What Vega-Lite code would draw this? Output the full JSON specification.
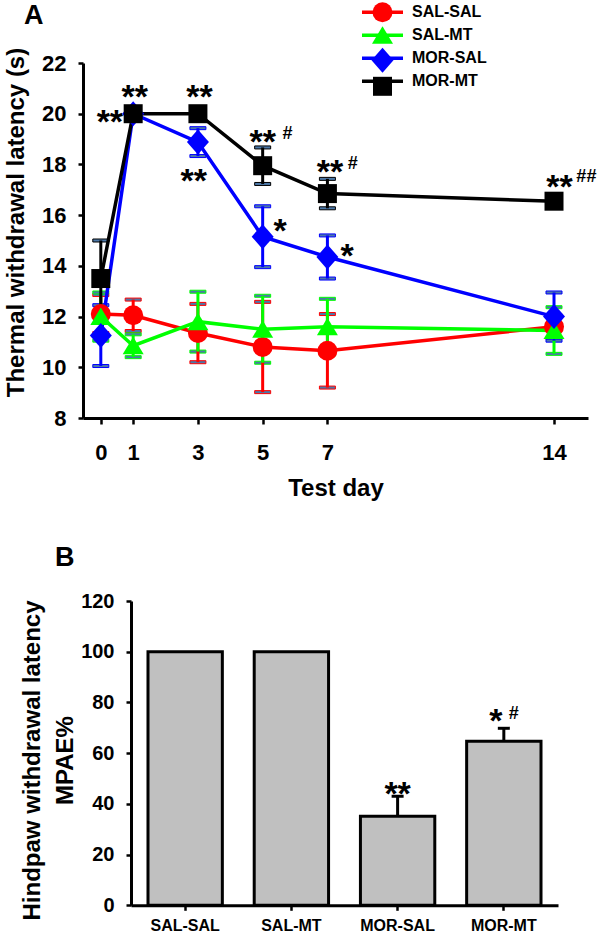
{
  "$schema": "https://vega.github.io/schema/vega-lite/v6.json",
  "padding": {"left": 3, "top": 2, "right": 0, "bottom": 0},
  "background": "white",
  "bounds": "flush",
  "spacing": 183,
  "config": {
    "font": "Liberation Sans",
    "view": {"stroke": null},
    "axis": {"domainColor": "#000", "domainWidth": 3, "tickColor": "#000", "tickWidth": 2.5, "labelColor": "#000", "labelFont": "Liberation Sans", "labelFontWeight": "bold", "titleFont": "Liberation Sans", "titleFontWeight": "bold", "titleColor": "#000", "grid": false}
  },
  "datasets": {
    "latency": [
      {"group": "SAL-SAL", "day": 0, "mean": 12.1, "sem": 0.75},
      {"group": "SAL-SAL", "day": 1, "mean": 12.05, "sem": 0.62},
      {"group": "SAL-SAL", "day": 3, "mean": 11.35, "sem": 1.15},
      {"group": "SAL-SAL", "day": 5, "mean": 10.8, "sem": 1.78},
      {"group": "SAL-SAL", "day": 7, "mean": 10.65, "sem": 1.45},
      {"group": "SAL-SAL", "day": 14, "mean": 11.6, "sem": 0.45},
      {"group": "SAL-MT", "day": 0, "mean": 12.0, "sem": 0.95},
      {"group": "SAL-MT", "day": 1, "mean": 10.85, "sem": 0.45},
      {"group": "SAL-MT", "day": 3, "mean": 11.8, "sem": 1.18},
      {"group": "SAL-MT", "day": 5, "mean": 11.5, "sem": 1.32},
      {"group": "SAL-MT", "day": 7, "mean": 11.6, "sem": 1.1},
      {"group": "SAL-MT", "day": 14, "mean": 11.45, "sem": 0.92},
      {"group": "MOR-SAL", "day": 0, "mean": 11.25, "sem": 1.2},
      {"group": "MOR-SAL", "day": 1, "mean": 20.0, "sem": 0.1},
      {"group": "MOR-SAL", "day": 3, "mean": 18.88, "sem": 0.55},
      {"group": "MOR-SAL", "day": 5, "mean": 15.15, "sem": 1.2},
      {"group": "MOR-SAL", "day": 7, "mean": 14.35, "sem": 0.85},
      {"group": "MOR-SAL", "day": 14, "mean": 12.0, "sem": 0.95},
      {"group": "MOR-MT", "day": 0, "mean": 13.5, "sem": 1.5},
      {"group": "MOR-MT", "day": 1, "mean": 20.0, "sem": 0.05},
      {"group": "MOR-MT", "day": 3, "mean": 20.0, "sem": 0.05},
      {"group": "MOR-MT", "day": 5, "mean": 17.95, "sem": 0.72},
      {"group": "MOR-MT", "day": 7, "mean": 16.85, "sem": 0.58},
      {"group": "MOR-MT", "day": 14, "mean": 16.55, "sem": 0.25}
    ],
    "starsA": [
      {"day": 0.28, "level": 20.0, "label": "**"},
      {"day": 1.05, "level": 21.0, "label": "**"},
      {"day": 3.05, "level": 21.0, "label": "**"},
      {"day": 2.87, "level": 17.7, "label": "**"},
      {"day": 5.0, "level": 19.23, "label": "**"},
      {"day": 7.08, "level": 18.05, "label": "**"},
      {"day": 14.17, "level": 17.45, "label": "**"},
      {"day": 5.54, "level": 15.72, "label": "*"},
      {"day": 7.61, "level": 14.73, "label": "*"}
    ],
    "hashA": [
      {"day": 5.77, "level": 19.27, "label": "#"},
      {"day": 7.78, "level": 18.09, "label": "#"},
      {"day": 15.0, "level": 17.57, "label": "##"}
    ],
    "mpae": [
      {"group": "SAL-SAL", "mpae": 100},
      {"group": "SAL-MT", "mpae": 100},
      {"group": "MOR-SAL", "mpae": 35.1, "upper": 43.0},
      {"group": "MOR-MT", "mpae": 64.7, "upper": 69.8}
    ],
    "annB": [
      {"group": "MOR-SAL", "level": 47.3, "label": "**", "kind": "star"},
      {"group": "MOR-MT", "level": 76.2, "label": "*", "kind": "star"},
      {"group": "MOR-MT", "level": 76.2, "label": "#", "kind": "hash"}
    ]
  },
  "vconcat": [
    {
      "width": 505,
      "height": 355,
      "title": {"text": "A", "anchor": "start", "frame": "group", "dx": -59, "dy": 85, "offset": 38, "fontSize": 27, "fontWeight": "bold", "baseline": "alphabetic", "font": "Liberation Sans", "color": "#000"},
      "resolve": {"legend": {"stroke": "independent"}},
      "layer": [
        {
          "data": {"name": "latency"},
          "mark": {"type": "errorbar", "ticks": {"opacity": 1}, "rule": {"opacity": 1}, "size": 16, "thickness": 3, "opacity": 1},
          "encoding": {
            "x": {"field": "day", "type": "quantitative", "title": "Test day", "scale": {"domain": [-0.55, 15.05], "nice": false, "zero": false}, "axis": {"values": [0, 1, 3, 5, 7, 14], "tickSize": 6, "labelPadding": 18, "labelFontSize": 22, "titleFontSize": 24, "titlePadding": 13}},
            "y": {"field": "mean", "type": "quantitative", "title": "Thermal withdrawal latency (s)", "scale": {"domain": [8, 22], "nice": false, "zero": false}, "axis": {"values": [8, 10, 12, 14, 16, 18, 20, 22], "tickSize": 5, "labelPadding": 12, "labelFontSize": 22, "titleFontSize": 24, "titleX": -60, "titleY": 159, "titleAngle": 270, "titleBaseline": "alphabetic", "titleAlign": "center"}},
            "yError": {"field": "sem"},
            "stroke": {"field": "group", "type": "nominal", "legend": null}
          }
        },
        {
          "data": {"name": "latency"},
          "mark": {"type": "line", "strokeWidth": 3.5},
          "encoding": {
            "x": {"field": "day", "type": "quantitative", "title": "Test day"},
            "y": {"field": "mean", "type": "quantitative", "title": "Thermal withdrawal latency (s)"},
            "stroke": {"field": "group", "type": "nominal", "scale": {"domain": ["SAL-SAL", "SAL-MT", "MOR-SAL", "MOR-MT"], "range": ["#ff0000", "#00ff00", "#0000ff", "#000000"]}, "legend": {
              "title": null, "orient": "none", "legendX": 291.5, "legendY": -58.7, "symbolType": "M-4.1,0H4.1", "symbolSize": 100, "symbolStrokeWidth": 3.5, "symbolOpacity": 1, "labelOffset": 21.5, "labelFontSize": 16, "labelFont": "Liberation Sans", "labelFontWeight": "bold", "labelColor": "#000", "rowPadding": 7
            }}
          }
        },
        {
          "data": {"name": "latency"},
          "mark": {"type": "point", "filled": true, "size": 400, "opacity": 1},
          "encoding": {
            "x": {"field": "day", "type": "quantitative", "title": "Test day"},
            "y": {"field": "mean", "type": "quantitative", "title": "Thermal withdrawal latency (s)"},
            "color": {"field": "group", "type": "nominal", "scale": {"domain": ["SAL-SAL", "SAL-MT", "MOR-SAL", "MOR-MT"], "range": ["#ff0000", "#00ff00", "#0000ff", "#000000"]}, "legend": {
              "title": null, "orient": "none", "legendX": 289.5, "legendY": -60.7, "symbolSize": 400, "symbolStrokeWidth": 0, "symbolOpacity": 1, "labelExpr": "''", "labelFontSize": 16, "labelOffset": 21.5, "rowPadding": 3
            }},
            "shape": {"field": "group", "type": "nominal", "scale": {"domain": ["SAL-SAL", "SAL-MT", "MOR-SAL", "MOR-MT"], "range": ["circle", "M0,-0.9L1.05,0.85L-1.05,0.85Z", "M0,-1.25L1.1,0L0,1.25L-1.1,0Z", "M-0.95,-0.95H0.95V0.95H-0.95Z"]}, "legend": {
              "title": null, "orient": "none", "legendX": 289.5, "legendY": -60.7, "symbolSize": 400, "symbolStrokeWidth": 0, "symbolOpacity": 1, "labelExpr": "''", "labelFontSize": 16, "labelOffset": 21.5, "rowPadding": 3
            }}
          }
        },
        {
          "data": {"name": "starsA"},
          "mark": {"type": "text", "fontSize": 34, "fontWeight": "bold", "font": "Liberation Sans", "baseline": "alphabetic", "align": "center", "dy": 19.5, "color": "#000"},
          "encoding": {
            "x": {"field": "day", "type": "quantitative", "title": "Test day"},
            "y": {"field": "level", "type": "quantitative", "title": "Thermal withdrawal latency (s)"},
            "text": {"field": "label"}
          }
        },
        {
          "data": {"name": "hashA"},
          "mark": {"type": "text", "fontSize": 18, "fontWeight": "bold", "font": "Liberation Sans", "baseline": "alphabetic", "align": "center", "dy": 6.5, "color": "#000"},
          "encoding": {
            "x": {"field": "day", "type": "quantitative", "title": "Test day"},
            "y": {"field": "level", "type": "quantitative", "title": "Thermal withdrawal latency (s)"},
            "text": {"field": "label"}
          }
        }
      ]
    },
    {
      "width": 475,
      "height": 304.3,
      "title": {"text": "B", "anchor": "start", "frame": "group", "dx": -28, "dy": 35, "offset": 33, "fontSize": 27, "fontWeight": "bold", "baseline": "alphabetic", "font": "Liberation Sans", "color": "#000"},
      "layer": [
        {
          "data": {"name": "mpae"},
          "mark": {"type": "bar", "fill": "#c0c0c0", "stroke": "#000", "strokeWidth": 3},
          "encoding": {
            "x": {"field": "group", "type": "nominal", "sort": null, "title": null, "scale": {"range": [48, 475], "paddingInner": 0.3, "paddingOuter": 0.16}, "axis": {"labelAngle": 0, "tickSize": 5, "labelPadding": 7, "labelFontSize": 16}},
            "y": {"field": "mpae", "type": "quantitative", "title": ["Hindpaw withdrawal latency", "MPAE%"], "scale": {"domain": [0, 120], "nice": false}, "axis": {"offset": -48, "values": [0, 20, 40, 60, 80, 100, 120], "tickSize": 5, "labelPadding": 12, "labelFontSize": 20, "titleFontSize": 24, "titleLineHeight": 33, "titleX": -92, "titleY": 159, "titleAngle": 270, "titleBaseline": "alphabetic", "titleAlign": "center"}}
          }
        },
        {
          "data": {"name": "mpae"},
          "transform": [{"filter": "isValid(datum.upper)"}],
          "mark": {"type": "rule", "strokeWidth": 3, "color": "#000"},
          "encoding": {
            "x": {"field": "group", "type": "nominal", "sort": null, "title": null},
            "y": {"field": "mpae", "type": "quantitative", "title": ["Hindpaw withdrawal latency", "MPAE%"]},
            "y2": {"field": "upper"}
          }
        },
        {
          "data": {"name": "mpae"},
          "transform": [{"filter": "isValid(datum.upper)"}],
          "mark": {"type": "tick", "size": 12, "thickness": 3, "color": "#000", "opacity": 1},
          "encoding": {
            "x": {"field": "group", "type": "nominal", "sort": null, "title": null},
            "y": {"field": "upper", "type": "quantitative", "title": ["Hindpaw withdrawal latency", "MPAE%"]}
          }
        },
        {
          "data": {"name": "annB"},
          "transform": [{"filter": "datum.group === 'MOR-SAL'"}],
          "mark": {"type": "text", "fontSize": 34, "fontWeight": "bold", "font": "Liberation Sans", "baseline": "alphabetic", "align": "center", "dy": 19.5, "color": "#000"},
          "encoding": {
            "x": {"field": "group", "type": "nominal", "sort": null, "title": null},
            "y": {"field": "level", "type": "quantitative", "title": ["Hindpaw withdrawal latency", "MPAE%"]},
            "text": {"field": "label"}
          }
        },
        {
          "data": {"name": "annB"},
          "transform": [{"filter": "datum.group === 'MOR-MT' && datum.kind === 'star'"}],
          "mark": {"type": "text", "fontSize": 34, "fontWeight": "bold", "font": "Liberation Sans", "baseline": "alphabetic", "align": "center", "dy": 19.5, "dx": -8, "color": "#000"},
          "encoding": {
            "x": {"field": "group", "type": "nominal", "sort": null, "title": null},
            "y": {"field": "level", "type": "quantitative", "title": ["Hindpaw withdrawal latency", "MPAE%"]},
            "text": {"field": "label"}
          }
        },
        {
          "data": {"name": "annB"},
          "transform": [{"filter": "datum.kind === 'hash'"}],
          "mark": {"type": "text", "fontSize": 18, "fontWeight": "bold", "font": "Liberation Sans", "baseline": "alphabetic", "align": "center", "dy": 6.5, "dx": 10, "color": "#000"},
          "encoding": {
            "x": {"field": "group", "type": "nominal", "sort": null, "title": null},
            "y": {"field": "level", "type": "quantitative", "title": ["Hindpaw withdrawal latency", "MPAE%"]},
            "text": {"field": "label"}
          }
        }
      ]
    }
  ]
}
